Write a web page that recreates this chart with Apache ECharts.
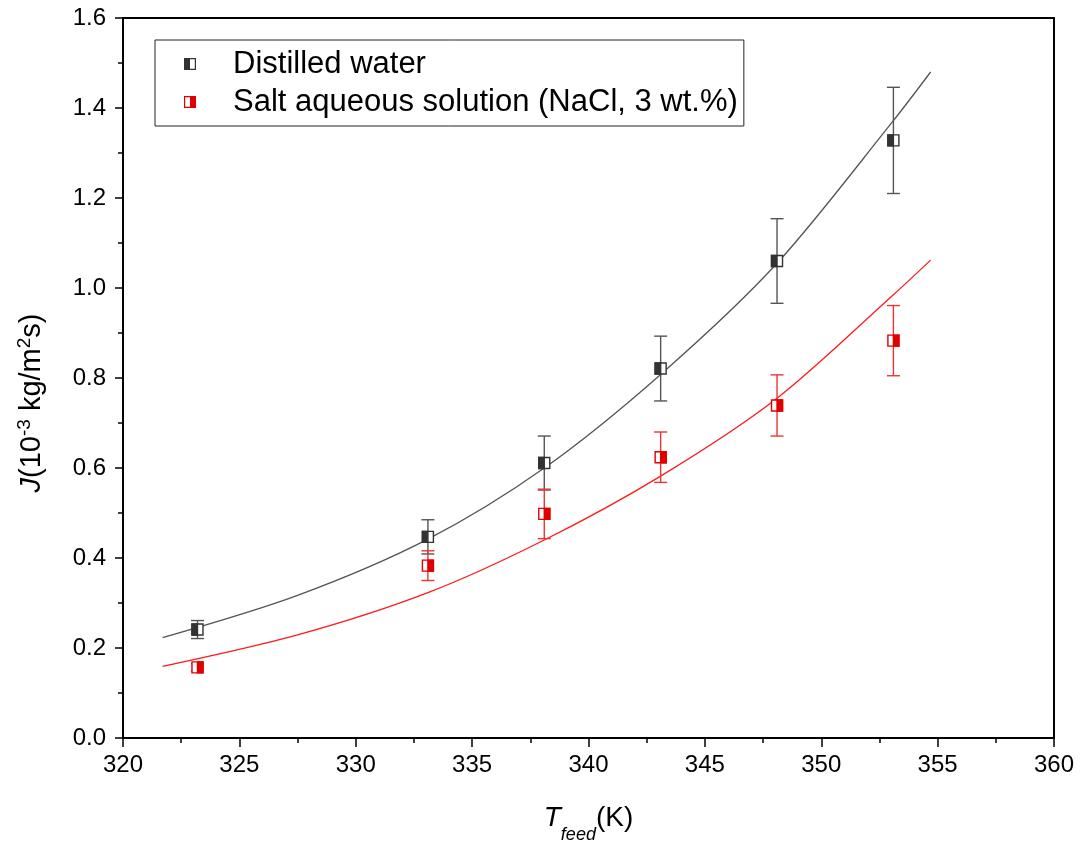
<!DOCTYPE html>
<html>
<head>
<meta charset="utf-8">
<script src="https://cdn.jsdelivr.net/npm/echarts@6/dist/echarts.min.js"></script>
<style>
html,body{margin:0;padding:0;background:#fff;}
#chart{width:1085px;height:849px;}
</style>
</head>
<body>
<div id="chart"></div>
<script>
// ---- data ----
var seriesNames = ['Distilled water', 'Salt aqueous solution (NaCl, 3 wt.%)'];
var tempX = [323.2, 333.1, 338.1, 343.1, 348.1, 353.1];
var waterJ = [0.241, 0.447, 0.611, 0.821, 1.060, 1.328];
var waterErr = [0.020, 0.038, 0.060, 0.072, 0.094, 0.118];
var saltJ = [0.157, 0.383, 0.498, 0.624, 0.739, 0.883];
var saltErr = [0.008, 0.033, 0.055, 0.056, 0.068, 0.078];
// fitted curves
var fitX = [321.7, 327.5, 333.1, 338.1, 343.1, 348.1, 353.1, 354.7];
var waterFit = [0.223, 0.317, 0.442, 0.600, 0.808, 1.055, 1.372, 1.480];
var saltFit = [0.159, 0.229, 0.323, 0.440, 0.582, 0.755, 0.985, 1.062];

var xTicks = {min: 320, max: 360, interval: 5};
var yTicks = {min: 0, max: 1.6, interval: 0.2};

function zip(a, b, c) {
  return a.map(function (v, i) { return c ? [v, b[i], c[i]] : [v, b[i]]; });
}

var FONT = 'Liberation Sans, Arial, sans-serif';
var BLACK_ICON = 'path://M0,0 L10,0 L10,10 L0,10 Z M5,1 L5,9 L9,9 L9,1 Z';
var RED_ICON = 'path://M0,0 L10,0 L10,10 L0,10 Z M1,1 L1,9 L5,9 L5,1 Z';

function makeRender(markColor, barColor, filledLeft) {
  return function (params, api) {
    var x = api.value(0), y = api.value(1), e = api.value(2);
    var p = api.coord([x, y]);
    var hi = api.coord([x, y + e]);
    var lo = api.coord([x, y - e]);
    var s = 11, h = s / 2, cap = 6.5;
    var lineStyle = {stroke: barColor, lineWidth: 1.4};
    var children = [
      {type: 'line', shape: {x1: p[0], y1: lo[1], x2: p[0], y2: hi[1]}, style: lineStyle},
      {type: 'line', shape: {x1: p[0] - cap, y1: hi[1], x2: p[0] + cap, y2: hi[1]}, style: lineStyle},
      {type: 'line', shape: {x1: p[0] - cap, y1: lo[1], x2: p[0] + cap, y2: lo[1]}, style: lineStyle},
      {type: 'rect', shape: {x: p[0] - h, y: p[1] - h, width: s, height: s},
        style: {fill: '#fff', stroke: markColor, lineWidth: 1.4}},
      {type: 'rect', shape: {x: filledLeft ? p[0] - h : p[0], y: p[1] - h, width: h, height: s},
        style: {fill: markColor, stroke: markColor, lineWidth: 1.4}}
    ];
    return {type: 'group', children: children};
  };
}

var chart = echarts.init(document.getElementById('chart'), null, {renderer: 'canvas'});
var option = {
  backgroundColor: '#fff',
  animation: false,
  grid: {left: 123, right: 31, top: 18, bottom: 108, show: true,
    borderColor: '#000', borderWidth: 2, backgroundColor: 'transparent'},
  legend: {
    left: 155, top: 40, orient: 'vertical',
    backgroundColor: '#fff', borderColor: '#222', borderWidth: 1,
    padding: [7, 6, 7, 29], itemGap: 4, itemWidth: 12, itemHeight: 12,
    textStyle: {fontFamily: FONT, fontSize: 31, color: '#000', lineHeight: 34, padding: [0, 0, 0, 32]},
    data: [
      {name: seriesNames[0], icon: BLACK_ICON, itemStyle: {color: '#333'}},
      {name: seriesNames[1], icon: RED_ICON, itemStyle: {color: '#e00000'}}
    ]
  },
  xAxis: {
    type: 'value', min: xTicks.min, max: xTicks.max, interval: xTicks.interval,
    axisLine: {onZero: false, lineStyle: {color: '#000', width: 2}},
    axisTick: {inside: false, length: 9, lineStyle: {color: '#000', width: 1.5}},
    minorTick: {show: true, splitNumber: 2, length: 5, lineStyle: {color: '#000', width: 1.5}},
    splitLine: {show: false},
    axisLabel: {fontFamily: FONT, fontSize: 24, color: '#000', margin: 15},
    name: '{it|T}{sub|feed}{n|(K)}', nameLocation: 'middle', nameGap: 64,
    nameTextStyle: {
      rich: {
        it: {fontFamily: FONT, fontSize: 28, fontStyle: 'italic', color: '#000', lineHeight: 32},
        sub: {fontFamily: FONT, fontSize: 18, fontStyle: 'italic', color: '#000', verticalAlign: 'bottom', lineHeight: 32, padding: [0, 0, -10, 0]},
        n: {fontFamily: FONT, fontSize: 28, color: '#000', lineHeight: 32}
      }
    }
  },
  yAxis: {
    type: 'value', min: yTicks.min, max: yTicks.max, interval: yTicks.interval,
    axisLine: {onZero: false, lineStyle: {color: '#000', width: 2}},
    axisTick: {inside: false, length: 8, lineStyle: {color: '#000', width: 1.5}},
    minorTick: {show: true, splitNumber: 2, length: 5, lineStyle: {color: '#000', width: 1.5}},
    splitLine: {show: false},
    axisLabel: {fontFamily: FONT, fontSize: 24, color: '#000', margin: 17,
      formatter: function (v) { return v.toFixed(1); }},
    name: '{it|J}{n|(10}{sup|-3}{n| kg/m}{sup|2}{n|s)}', nameLocation: 'middle', nameGap: 74,
    nameRotate: 90,
    nameTextStyle: {
      padding: [0, 50, 0, 0],
      rich: {
        it: {fontFamily: FONT, fontSize: 29, fontStyle: 'italic', color: '#000', lineHeight: 34},
        sup: {fontFamily: FONT, fontSize: 19, color: '#000', verticalAlign: 'top', lineHeight: 34, padding: [0, 0, 10, 0]},
        n: {fontFamily: FONT, fontSize: 29, color: '#000', lineHeight: 34}
      }
    }
  },
  series: [
    {name: 'fit-water', type: 'line', data: zip(fitX, waterFit), smooth: 0.3, showSymbol: false,
      lineStyle: {color: '#555', width: 1.3}, z: 2, silent: true},
    {name: 'fit-salt', type: 'line', data: zip(fitX, saltFit), smooth: 0.3, showSymbol: false,
      lineStyle: {color: '#ff1a1a', width: 1.3}, z: 2, silent: true},
    {name: seriesNames[0], type: 'custom', itemStyle: {color: '#333'},
      renderItem: makeRender('#333', '#555', true), data: zip(tempX, waterJ, waterErr), z: 5,
      encode: {x: 0, y: 1}},
    {name: seriesNames[1], type: 'custom', itemStyle: {color: '#e00000'},
      renderItem: makeRender('#e00000', '#ee3333', false), data: zip(tempX, saltJ, saltErr), z: 5,
      encode: {x: 0, y: 1}}
  ]
};
chart.setOption(option);
</script>
</body>
</html>
